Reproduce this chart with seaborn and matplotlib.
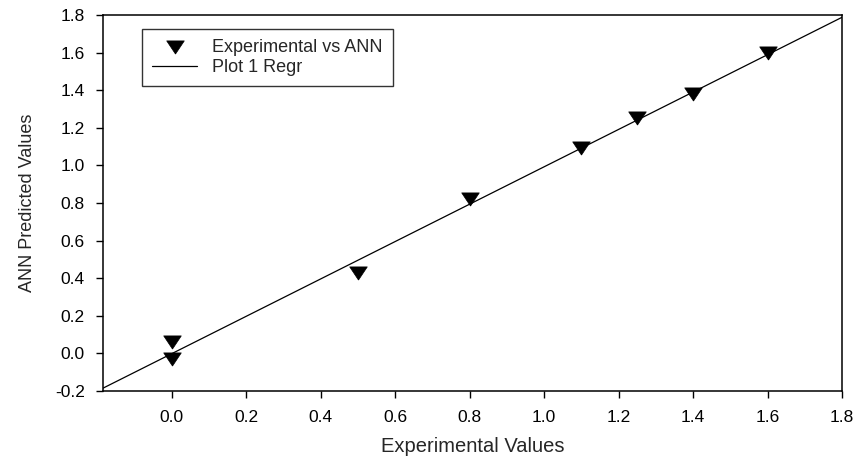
import numpy as np
import pandas as pd
import matplotlib
matplotlib.use("Agg")
import matplotlib.pyplot as plt
import seaborn as sns

# Data
experimental = [0.0, 0.0, 0.5, 0.8, 1.1, 1.25, 1.4, 1.6]
ann_predicted = [0.06, -0.03, 0.43, 0.82, 1.09, 1.25, 1.38, 1.60]
x_ticks = [0.0, 0.2, 0.4, 0.6, 0.8, 1.0, 1.2, 1.4, 1.6, 1.8]
y_ticks = [-0.2, 0.0, 0.2, 0.4, 0.6, 0.8, 1.0, 1.2, 1.4, 1.6, 1.8]

sns.set_theme(style="ticks")
plt.rcParams['font.family'] = ['Liberation Sans', 'DejaVu Sans']

df = pd.DataFrame({"Experimental Values": experimental,
                   "ANN Predicted Values": ann_predicted})

fig = plt.figure(figsize=(8.56, 4.62), dpi=100)
ax = fig.add_axes([103 / 856, 1 - 391 / 462, 739 / 856, 376 / 462])

xlim = (-0.185, 1.8)
ylim = (-0.2, 1.8)

slope, intercept = np.polyfit(experimental, ann_predicted, 1)
xs = np.array([xlim[0] - 0.1, xlim[1] + 0.1])
line_df = pd.DataFrame({"x": xs, "y": slope * xs + intercept})
sns.lineplot(data=line_df, x="x", y="y", ax=ax, color="black",
             linewidth=0.9, label="Plot 1 Regr", zorder=2)

tri = [(0, -0.75), (-1, 0.75), (1, 0.75), (0, -0.75)]
sns.scatterplot(data=df, x="Experimental Values", y="ANN Predicted Values",
                ax=ax, marker=tri, s=160, color="black", edgecolor="black",
                linewidth=0.5, label="Experimental vs ANN", zorder=3)

ax.set_xlim(*xlim)
ax.set_ylim(*ylim)
ax.set_xticks(x_ticks)
ax.set_yticks(y_ticks)
ax.set_xticklabels([f"{t:.1f}" for t in x_ticks], fontsize=12.5)
ax.set_yticklabels([f"{t:.1f}" for t in y_ticks], fontsize=12.5)
ax.set_xlabel("Experimental Values", fontsize=14.5, labelpad=8)
ax.set_ylabel("ANN Predicted Values", fontsize=13, labelpad=14)

for sp in ax.spines.values():
    sp.set_visible(True)
    sp.set_linewidth(1.1)
    sp.set_color("black")
ax.tick_params(axis="both", direction="out", length=5, width=1.0,
               color="black", labelcolor="black")
ax.tick_params(axis="x", pad=9)
ax.tick_params(axis="y", pad=8)

handles, labels = ax.get_legend_handles_labels()
order = [labels.index("Experimental vs ANN"), labels.index("Plot 1 Regr")]
leg = ax.legend([handles[i] for i in order], [labels[i] for i in order],
                loc="upper left", bbox_to_anchor=(0.0528, 0.963),
                fontsize=13, frameon=True, fancybox=False,
                edgecolor="black", borderpad=0.55, handlelength=2.5,
                labelspacing=0.17, handletextpad=0.83, borderaxespad=0)
leg.get_frame().set_linewidth(1.0)

fig.savefig("out.png", dpi=100)
